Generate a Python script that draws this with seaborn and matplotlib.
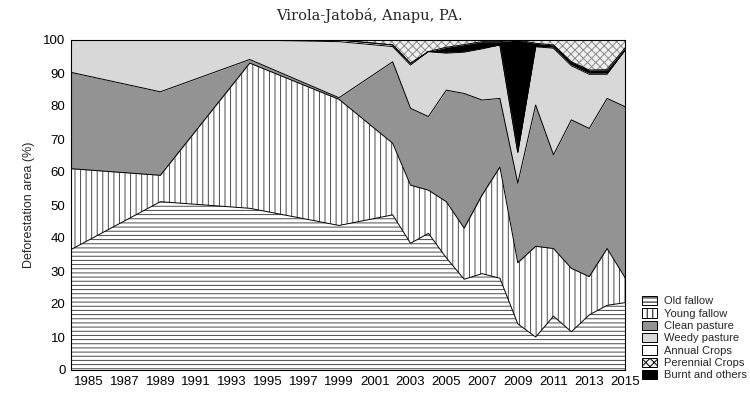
import numpy as np
import pandas as pd
import seaborn as sns
import matplotlib
matplotlib.use("Agg")
import matplotlib.pyplot as plt
from matplotlib.patches import Patch

# ---- data (percent of deforested area) ----
years = [1984, 1989, 1994, 1999, 2002, 2003, 2004, 2005, 2006, 2007, 2008,
         2009, 2010, 2011, 2012, 2013, 2014, 2015]
old_fallow = [36.5, 51.0, 49.0, 43.8, 47.0, 38.4, 41.4, 34.0, 27.5, 29.2, 27.8,
              14.0, 10.0, 16.3, 11.6, 16.7, 19.6, 20.4]
young_fallow = [24.5, 8.0, 44.0, 38.2, 21.7, 17.6, 13.1, 17.0, 15.5, 23.8, 33.7,
                18.5, 27.5, 20.5, 19.2, 11.6, 17.2, 7.6]
clean_pasture = [29.2, 25.3, 1.1, 0.5, 24.7, 23.3, 22.3, 33.8, 40.8, 28.8, 20.8,
                 24.1, 42.8, 28.4, 45.0, 44.9, 45.5, 51.8]
weedy_pasture = [9.8, 15.7, 5.9, 17.0, 4.6, 13.1, 19.7, 11.2, 12.5, 15.5, 16.2,
                 9.4, 17.7, 32.3, 16.4, 16.4, 7.3, 17.0]
annual_crops = [0.0, 0.0, 0.0, 0.5, 0.5, 0.5, 0.0, 0.3, 0.3, 0.3, 0.0,
                0.0, 0.0, 0.4, 0.4, 0.4, 0.4, 0.2]
burnt_others = [0.0, 0.0, 0.0, 0.0, 0.0, 0.0, 0.0, 1.5, 2.0, 1.9, 1.0,
                34.0, 1.0, 0.6, 0.8, 0.9, 1.0, 0.6]
perennial_crops = [0.0, 0.0, 0.0, 0.0, 1.5, 7.1, 3.5, 2.2, 1.4, 0.5, 0.5,
                   0.0, 1.0, 1.5, 6.6, 9.1, 9.0, 2.4]

legend_labels = ["Old fallow", "Young fallow", "Clean pasture", "Weedy pasture",
                 "Annual Crops", "Perennial Crops", "Burnt and others"]
title = "Virola-Jatobá, Anapu, PA."
ylabel = "Deforestation area (%)"
xticks = list(range(1985, 2016, 2))
yticks = list(range(0, 101, 10))

df = pd.DataFrame({
    "year": years,
    "Old fallow": old_fallow,
    "Young fallow": young_fallow,
    "Clean pasture": clean_pasture,
    "Weedy pasture": weedy_pasture,
    "Annual Crops": annual_crops,
    "Burnt and others": burnt_others,
    "Perennial Crops": perennial_crops,
})

# stacking order as seen in the chart (bottom -> top)
stack_order = ["Old fallow", "Young fallow", "Clean pasture", "Weedy pasture",
               "Annual Crops", "Burnt and others", "Perennial Crops"]

styles = {
    "Old fallow": dict(fc="white", hatch="----", hc="#4a4a4a"),
    "Young fallow": dict(fc="white", hatch="|||", hc="#4a4a4a"),
    "Clean pasture": dict(fc="#939393", hatch=None, hc="#939393"),
    "Weedy pasture": dict(fc="#d8d8d8", hatch=None, hc="#d8d8d8"),
    "Annual Crops": dict(fc="white", hatch=None, hc="white"),
    "Burnt and others": dict(fc="black", hatch=None, hc="black"),
    "Perennial Crops": dict(fc="#f0f0f0", hatch="xxxx", hc="#8a8a8a"),
}

sns.set_theme(style="white")
plt.rcParams["font.family"] = ["Liberation Sans", "DejaVu Sans"]
plt.rcParams["hatch.linewidth"] = 0.7

fig = plt.figure(figsize=(7.5, 3.98), dpi=100)
ax = fig.add_axes([71 / 750, 1 - 370 / 398, (625 - 71) / 750, (370 - 40) / 398])

x = np.array(df["year"], dtype=float)
base = np.zeros(len(x))
tops = []
for name in stack_order:
    top = base + df[name].to_numpy()
    st = styles[name]
    ax.fill_between(x, base, top, facecolor=st["fc"], edgecolor=st["hc"],
                    hatch=st["hatch"], linewidth=0, zorder=1)
    tops.append(top)
    base = top

for top in tops[:-1]:
    sns.lineplot(x=x, y=top, color="black", linewidth=0.7, ax=ax,
                 legend=False, zorder=3)

ax.set_xlim(1984, 2015)
ax.set_ylim(0, 100)
ax.set_xticks(xticks)
ax.set_xticklabels([str(t) for t in xticks], fontsize=9.5)
ax.set_yticks(yticks)
ax.set_yticklabels([str(t) for t in yticks], fontsize=9.5)
ax.tick_params(direction="in", length=3, width=0.6, right=True, left=True,
               bottom=True, top=False, labelright=False, pad=4, colors="black")
for sp in ax.spines.values():
    sp.set_visible(True)
    sp.set_color("black")
    sp.set_linewidth(0.8)
ax.set_xlabel("")
ax.set_ylabel(ylabel, fontsize=9, labelpad=6)

fig.text(0.493, 0.962, title, ha="center", va="center",
         fontsize=10.5, family=["DejaVu Serif"])

handles = []
for name in legend_labels:
    st = styles[name]
    handles.append(Patch(facecolor=st["fc"], edgecolor="black",
                         hatch=st["hatch"], linewidth=0.7, label=name))
fig.legend(handles=handles, loc="upper left",
           bbox_to_anchor=(642 / 750, 1 - 296 / 398), frameon=False,
           fontsize=8, handlelength=1.35, handleheight=0.9,
           handletextpad=0.6, labelspacing=0.17, borderaxespad=0,
           borderpad=0)

fig.savefig("out.png", dpi=100)
